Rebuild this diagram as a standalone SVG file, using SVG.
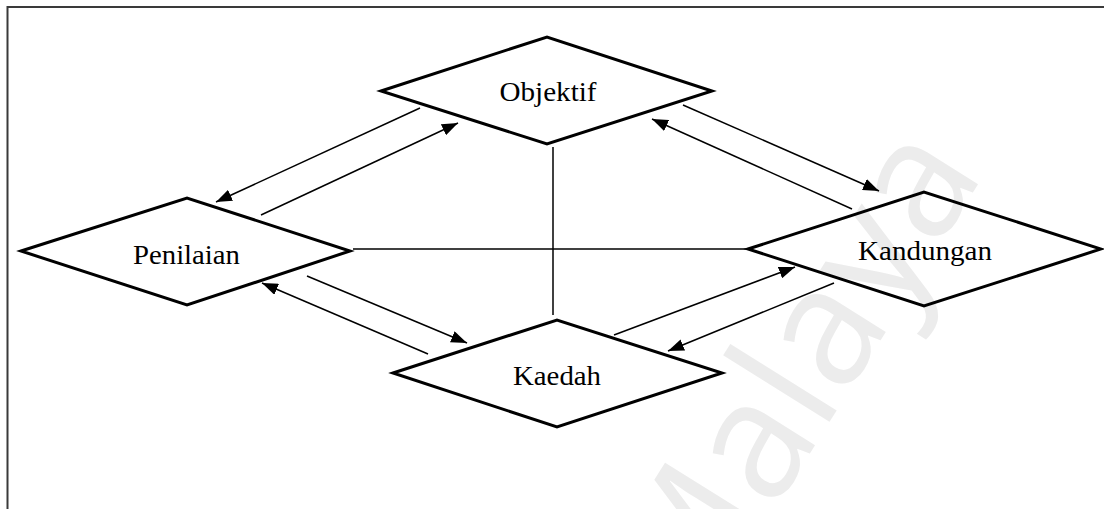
<svg xmlns="http://www.w3.org/2000/svg" width="1104" height="509" viewBox="0 0 1104 509">
  <style>
    .frame { fill: none; stroke: #3a3a3a; stroke-width: 2; }
    .node { fill: none; stroke: #000; stroke-width: 3; stroke-linejoin: miter; }
    .lbl { font-family: "Liberation Serif", "Times New Roman", serif; font-size: 28px; fill: #000; text-anchor: middle; }
    .conn { stroke: #000; stroke-width: 1.5; fill: none; }
    .arr { marker-end: url(#ah); }
    .wm { font-family: "Open Sans", "Noto Sans", sans-serif; font-size: 165px; fill: #ececec; text-anchor: middle; }
  </style>
  <defs>
    <marker id="ah" viewBox="0 0 16 12" refX="16" refY="6" markerWidth="16" markerHeight="12" markerUnits="userSpaceOnUse" orient="auto">
      <path d="M0,0 L16,6 L0,12 Z" fill="#000"/>
    </marker>
  </defs>
  <rect width="1104" height="509" fill="#fff"/>
  <text class="wm" transform="translate(840,405) rotate(-58)">Malaya</text>
  <path class="frame" d="M7.5,509 V7 H1104"/>

  <g id="connectors">
    <line class="conn arr" x1="420" y1="108" x2="216" y2="202"/>
    <line class="conn arr" x1="261" y1="215" x2="458" y2="123"/>
    <line class="conn arr" x1="683" y1="105" x2="879" y2="191"/>
    <line class="conn arr" x1="852" y1="209" x2="652" y2="119"/>
    <line class="conn arr" x1="614" y1="335" x2="795" y2="267"/>
    <line class="conn arr" x1="834" y1="283" x2="668" y2="351"/>
    <line class="conn arr" x1="307" y1="276" x2="467" y2="343"/>
    <line class="conn arr" x1="428" y1="354" x2="262" y2="283"/>
    <line class="conn" x1="353" y1="249" x2="748" y2="249"/>
    <line class="conn" x1="553" y1="147" x2="553" y2="315"/>
  </g>

  <g id="objektif">
    <polygon class="node" points="381,91 547,37 712,91 547,144"/>
    <text class="lbl" x="548" y="101" textLength="97" lengthAdjust="spacingAndGlyphs">Objektif</text>
  </g>
  <g id="penilaian">
    <polygon class="node" points="21,251 187,198 350,251 187,305"/>
    <text class="lbl" x="186.5" y="264" textLength="107" lengthAdjust="spacingAndGlyphs">Penilaian</text>
  </g>
  <g id="kandungan">
    <polygon class="node" points="748,249 924,192 1101,249 924,306"/>
    <text class="lbl" x="925" y="260" textLength="134" lengthAdjust="spacingAndGlyphs">Kandungan</text>
  </g>
  <g id="kaedah">
    <polygon class="node" points="393,373 557,320 722,373 557,427"/>
    <text class="lbl" x="557" y="385" textLength="88" lengthAdjust="spacingAndGlyphs">Kaedah</text>
  </g>
</svg>
